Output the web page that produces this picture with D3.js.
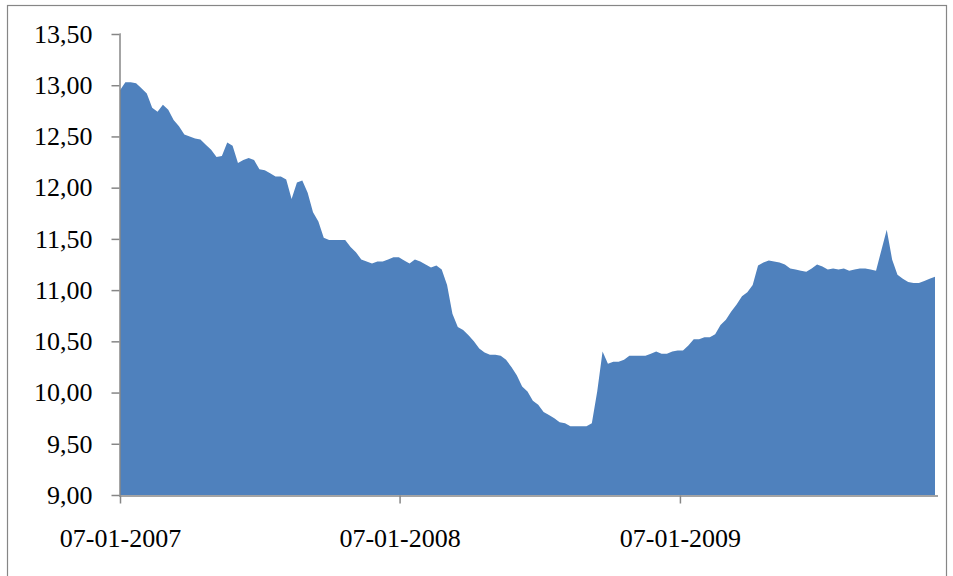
<!DOCTYPE html>
<html>
<head>
<meta charset="utf-8">
<script src="https://cdn.jsdelivr.net/npm/d3@7"></script>
<style>
  body { margin: 0; background: #fff; }
  svg { display: block; }
</style>
</head>
<body>
<svg></svg>
<script>
// weekly values, first week = 07-01-2007
var startDate = "2007-01-07";
var values = [
  12.95, 13.03, 13.03, 13.02, 12.97, 12.92, 12.78, 12.74, 12.81, 12.76,
  12.66, 12.60, 12.52, 12.50, 12.48, 12.47, 12.42, 12.37, 12.30, 12.31,
  12.44, 12.41, 12.24, 12.27, 12.29, 12.27, 12.18, 12.17, 12.14, 12.11,
  12.11, 12.08, 11.89, 12.05, 12.07, 11.95, 11.76, 11.67, 11.51, 11.49,
  11.49, 11.49, 11.49, 11.42, 11.37, 11.30, 11.28, 11.26, 11.28, 11.28,
  11.30, 11.32, 11.32, 11.29, 11.26, 11.30, 11.28, 11.25, 11.22, 11.24,
  11.20, 11.05, 10.77, 10.64, 10.61, 10.56, 10.50, 10.43, 10.39, 10.37,
  10.37, 10.36, 10.32, 10.25, 10.17, 10.06, 10.01, 9.92, 9.88, 9.81,
  9.78, 9.75, 9.71, 9.70, 9.67, 9.67, 9.67, 9.67, 9.70, 10.01,
  10.40, 10.28, 10.30, 10.30, 10.32, 10.36, 10.36, 10.36, 10.36, 10.38,
  10.40, 10.38, 10.38, 10.40, 10.41, 10.41, 10.46, 10.52, 10.52, 10.54,
  10.54, 10.57, 10.66, 10.71, 10.79, 10.86, 10.94, 10.98, 11.05, 11.24,
  11.27, 11.29, 11.28, 11.27, 11.25, 11.21, 11.20, 11.19, 11.18, 11.21,
  11.25, 11.23, 11.20, 11.21, 11.20, 11.21, 11.19, 11.20, 11.21, 11.21,
  11.20, 11.19, 11.39, 11.59, 11.30, 11.15, 11.11, 11.08, 11.07, 11.07,
  11.09, 11.11, 11.13
];
var xTickDates = ["2007-01-07", "2008-01-07", "2009-01-07"];
var xTickLabels = ["07-01-2007", "07-01-2008", "07-01-2009"];
var yTicks = [9, 9.5, 10, 10.5, 11, 11.5, 12, 12.5, 13, 13.5];

function chart() {
    var width = 953,
        height = 576;

    var parse = d3.timeParse("%Y-%m-%d");
    var start = parse(startDate);
    var data = values.map(function(v, i) {
        return { date: d3.timeDay.offset(start, 7 * i), value: v };
    });

    var x = d3.scaleTime()
        .domain([start, data[data.length - 1].date])
        .range([120, 935]);
    var y = d3.scaleLinear().domain([9, 13.5]).range([495, 34]);

    var nl = d3.formatLocale({ decimal: ",", thousands: ".", grouping: [3], currency: ["", " €"] });
    var fmt = nl.format(".2f");

    var svg = d3.select("svg")
        .attr("width", width)
        .attr("height", height);

    svg.selectAll("*").remove();

    // outer frame (bottom edge falls below the picture)
    svg.append("rect")
        .attr("x", 7.5).attr("y", 5.5)
        .attr("width", 939).attr("height", 580)
        .attr("fill", "none")
        .attr("stroke", "#868686")
        .attr("stroke-width", 1.2);

    var area = d3.area()
        .x(function(d) { return x(d.date); })
        .y0(y(9))
        .y1(function(d) { return y(d.value); });

    svg.append("path")
        .datum(data)
        .attr("fill", "#4F81BD")
        .attr("d", area);

    // y axis
    var yAxis = svg.append("g")
        .attr("transform", "translate(119.5,0)")
        .call(d3.axisLeft(y).tickValues(yTicks).tickSize(8).tickPadding(19).tickFormat(fmt));

    // x axis
    var xAxis = svg.append("g")
        .attr("transform", "translate(0,495.5)")
        .call(d3.axisBottom(x)
            .tickValues(xTickDates.map(parse))
            .tickSize(8)
            .tickPadding(25)
            .tickFormat(function(d, i) { return xTickLabels[i]; }));

    xAxis.select(".domain").attr("d", "M119,0.5H938");
    yAxis.select(".domain").attr("d", "M0,34H0.5V495.5");

    svg.selectAll(".domain, .tick line")
        .attr("stroke", "#868686")
        .attr("stroke-width", 1.5);

    svg.selectAll(".tick text")
        .attr("fill", "#000")
        .style("font-family", "'Liberation Serif', 'Times New Roman', serif")
        .style("font-size", "26px");
}

chart();
</script>
</body>
</html>
